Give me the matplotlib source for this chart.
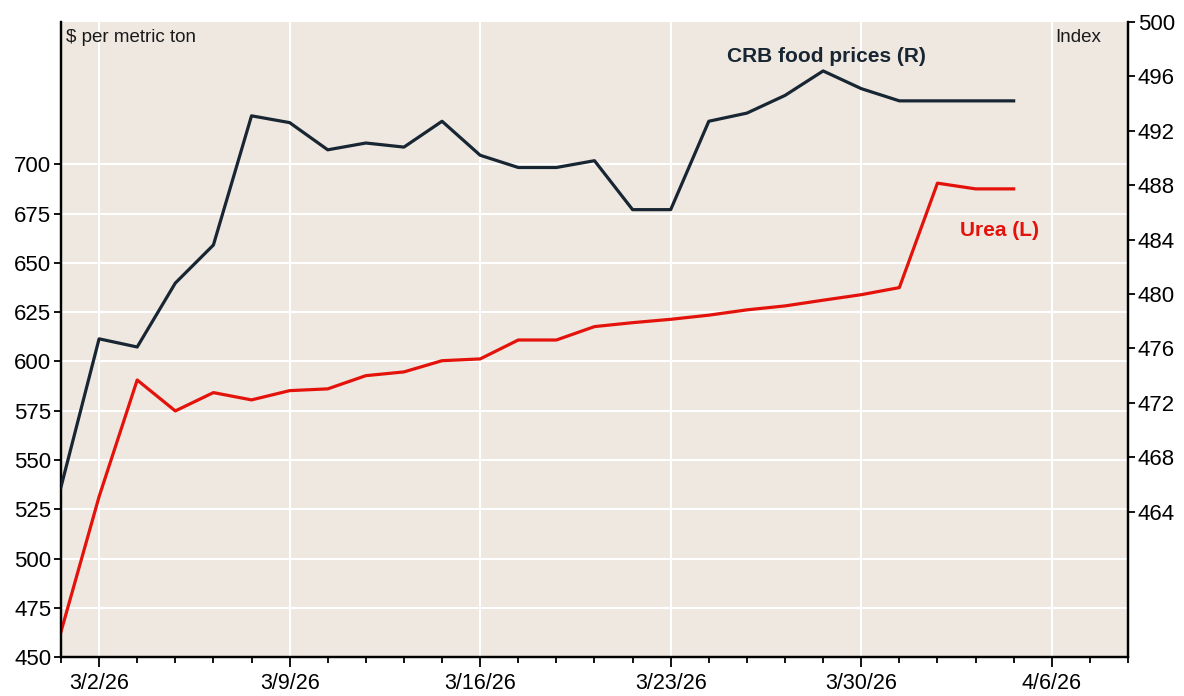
import numpy as np
import pandas as pd
import matplotlib
matplotlib.use("Agg")
import matplotlib.pyplot as plt

plt.rcParams['font.family'] = ['Liberation Sans', 'DejaVu Sans']

# business days, 2/27/26 .. 4/3/26
dates = pd.bdate_range("2026-02-27", "2026-04-03")

# CRB food prices, index (right axis)
crb = [465.8, 476.7, 476.1, 480.8, 483.6, 493.1, 492.6, 490.6, 491.1, 490.8,
       492.7, 490.2, 489.3, 489.3, 489.8, 486.2, 486.2, 492.7, 493.3, 494.6,
       496.4, 495.1, 494.2, 494.2, 494.2, 494.2]

# urea, $ per metric ton (left axis)
urea = [462.8, 531.4, 590.6, 574.9, 584.2, 580.5, 585.2, 586.1, 592.8, 594.7,
        600.4, 601.3, 610.9, 610.9, 617.7, 619.7, 621.4, 623.5, 626.2, 628.2,
        631.1, 633.9, 637.5, 690.5, 687.6, 687.6]

left_ticks = [450, 475, 500, 525, 550, 575, 600, 625, 650, 675, 700]
right_ticks = [464, 468, 472, 476, 480, 484, 488, 492, 496, 500]

# axis runs a few business days past the data
axis_days = pd.bdate_range("2026-02-27", "2026-04-08")

navy = "#182633"
red = "#E3120B"
bg = "#EFE8E0"

fig = plt.figure(figsize=(11.84, 6.96), dpi=100)
ax = fig.add_axes([0.0515, 0.056, 0.9012, 0.9124])
ax.set_facecolor(bg)
ax2 = ax.twinx()

x = np.arange(len(dates))
ax.plot(x, urea, color=red, lw=2.3, zorder=3)
ax2.plot(x, crb, color=navy, lw=2.3, zorder=3)

ax.set_xlim(0, len(axis_days) - 1)
ax.set_ylim(450, 772.3)
ax2.set_ylim(453.3, 500)

ax.set_yticks(left_ticks)
ax2.set_yticks(right_ticks)

major = [i for i, d in enumerate(axis_days) if d.weekday() == 0]
ax.set_xticks(major)
ax.set_xticklabels([f"{axis_days[i].month}/{axis_days[i].day}/{axis_days[i].strftime('%y')}" for i in major])
ax.set_xticks(np.arange(len(axis_days)), minor=True)

ax.grid(True, which="major", color="white", lw=1.5)
ax.set_axisbelow(True)

for a in (ax, ax2):
    a.spines["top"].set_visible(False)
    for s in ("left", "right", "bottom"):
        a.spines[s].set_linewidth(1.6)
ax.tick_params(axis="y", labelsize=16, length=5, width=1.3, pad=2)
ax.tick_params(axis="x", which="major", labelsize=15.5, length=7.5, width=1.3, pad=4)
ax.tick_params(axis="x", which="minor", length=4, width=1.3)
ax2.tick_params(axis="y", labelsize=16, length=5, width=1.3, pad=2)

ax.text(0.005, 0.975, "$ per metric ton", transform=ax.transAxes, fontsize=13.5,
        ha="left", va="center", color="#1a1a1a")
ax.text(0.975, 0.975, "Index", transform=ax.transAxes, fontsize=13.5,
        ha="right", va="center", color="#1a1a1a")
ax.text(0.717, 0.945, "CRB food prices (R)", transform=ax.transAxes, fontsize=15,
        fontweight="bold", ha="center", va="center", color=navy)
ax.text(0.880, 0.671, "Urea (L)", transform=ax.transAxes, fontsize=15,
        fontweight="bold", ha="center", va="center", color=red)

fig.savefig("out.png", dpi=100, facecolor="white")
